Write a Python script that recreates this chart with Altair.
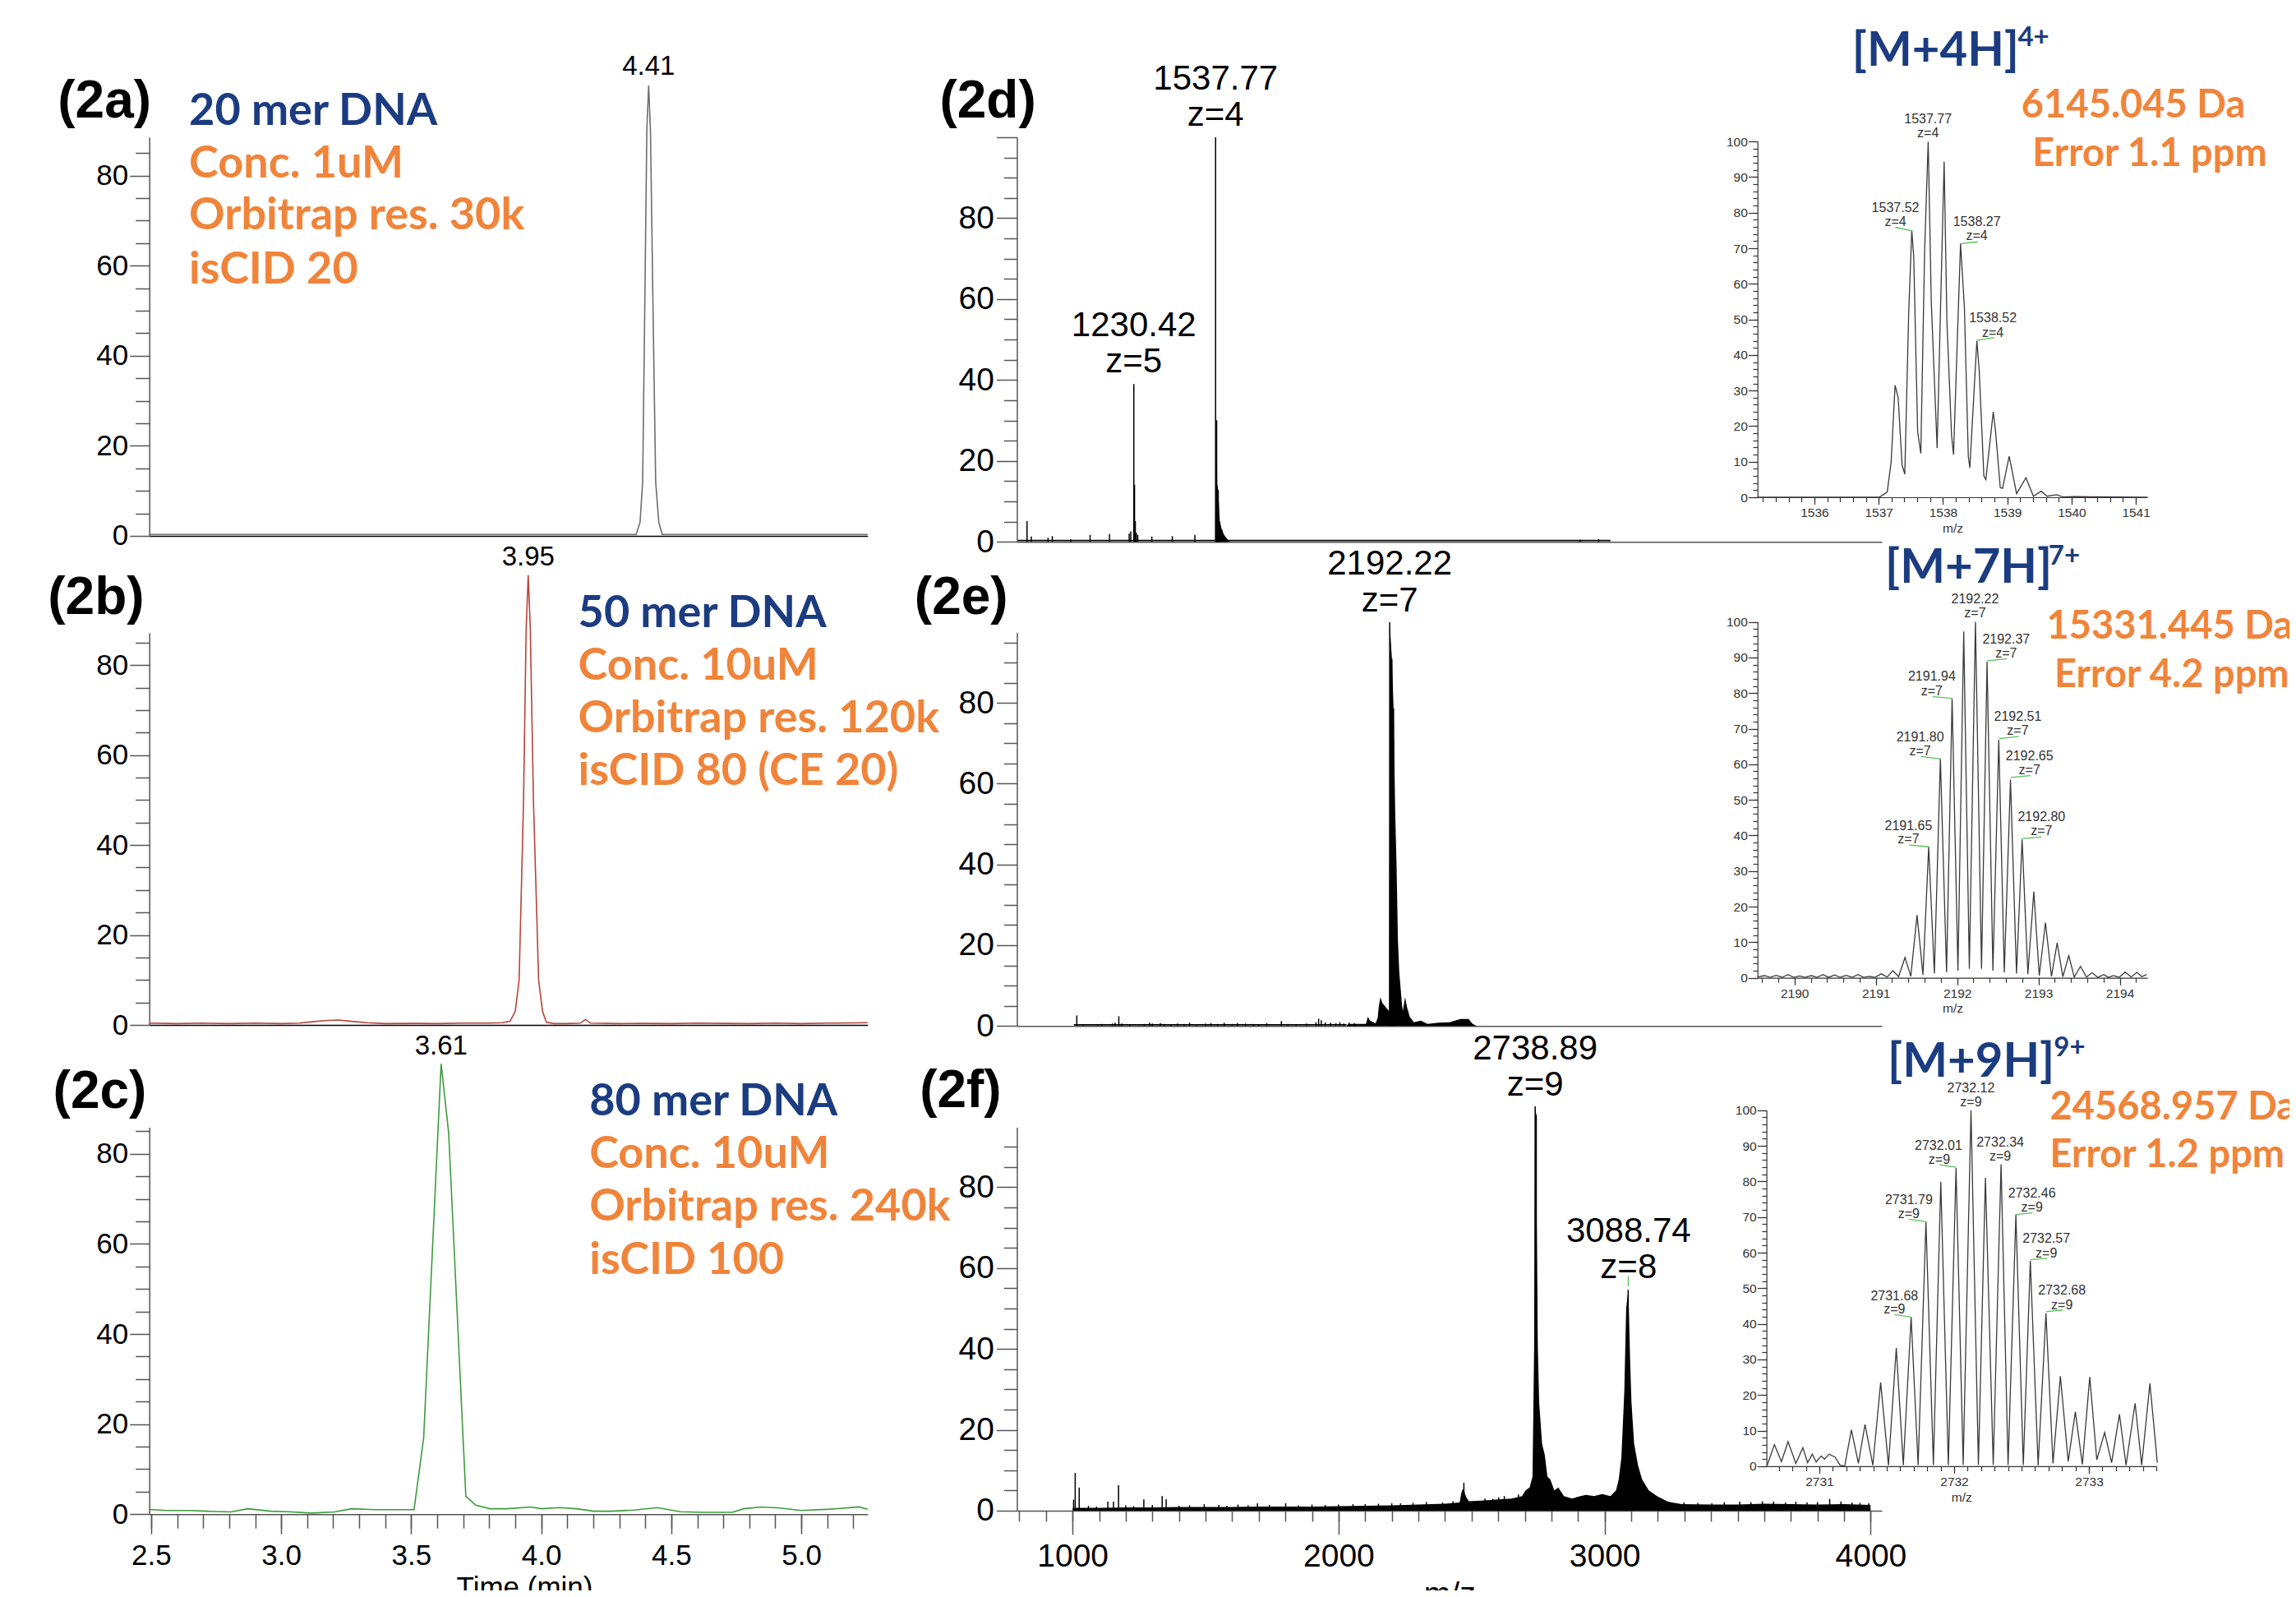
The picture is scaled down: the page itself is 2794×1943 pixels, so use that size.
import altair as alt
import pandas as pd

# ------------------------------------------------------------------ data
# (2a) chromatogram 20 mer
a_time = [2.493, 3.0, 3.5, 4.0, 4.365, 4.38, 4.39, 4.398, 4.406, 4.413, 4.42, 4.43, 4.44, 4.452, 4.465, 4.8, 5.255]
a_int = [0.3, 0.3, 0.3, 0.3, 0.3, 3, 12, 50, 90, 100, 90, 50, 12, 3, 0.3, 0.3, 0.3]
# (2b) chromatogram 50 mer
b_time = [2.493, 2.6, 2.7, 2.8, 2.9, 3.0, 3.07, 3.12, 3.18, 3.22, 3.27, 3.33, 3.4, 3.5, 3.6, 3.7, 3.8, 3.85,
          3.88, 3.9, 3.915, 3.932, 3.942, 3.95, 3.958, 3.97, 3.99, 4.005, 4.02, 4.05, 4.1, 4.15, 4.17, 4.19,
          4.3, 4.4, 4.5, 4.6, 4.7, 4.8, 4.9, 5.0, 5.1, 5.2, 5.255]
b_int = [0.4, 0.3, 0.4, 0.3, 0.4, 0.3, 0.4, 0.7, 1.0, 1.1, 0.8, 0.5, 0.3, 0.35, 0.3, 0.4, 0.4, 0.5,
         0.8, 3, 10, 50, 88, 100, 88, 50, 10, 3, 0.6, 0.3, 0.3, 0.4, 1.2, 0.4,
         0.3, 0.35, 0.3, 0.4, 0.35, 0.3, 0.4, 0.3, 0.4, 0.45, 0.5]
# (2c) chromatogram 80 mer
c_time = [2.491, 2.562, 2.651, 2.717, 2.806, 2.872, 2.961, 3.027, 3.116, 3.205, 3.271, 3.36, 3.426, 3.511,
          3.548, 3.615, 3.644, 3.71, 3.748, 3.803, 3.87, 3.958, 4.003, 4.069, 4.136, 4.202, 4.269, 4.357,
          4.446, 4.535, 4.623, 4.734, 4.778, 4.845, 4.911, 5.0, 5.111, 5.222, 5.255]
c_int = [1.05, 0.8, 0.8, 0.65, 0.5, 1.2, 0.65, 0.55, 0.25, 0.5, 1.2, 1.0, 1.0, 1.0,
         17, 100, 84.7, 4.0, 2.0, 1.2, 1.2, 1.6, 1.2, 1.45, 1.2, 0.65, 0.65, 0.9,
         1.45, 0.55, 0.4, 0.4, 1.2, 1.6, 1.4, 0.8, 1.1, 1.6, 1.1]

# (2d) spectrum: sticks, filled envelope, baseline
d_mz = [829, 845, 908, 924, 993, 1066, 1139, 1213, 1219, 1230.42, 1233, 1236, 1240, 1245, 1298, 1375, 1460,
        1537.77, 1541.7, 1543.6, 1547.6, 1553.5, 1561.4, 1571.2, 1587, 2908, 2977]
d_int = [5.1, 1.3, 1.0, 1.4, 0.6, 1.7, 1.9, 2.0, 2.6, 39.0, 14.1, 5.1, 2.2, 1.7, 1.3, 1.4, 1.7,
         100, 30, 14, 12.8, 5, 3, 1.5, 0.3, 0.5, 0.7]
d_fill_mz = [1536.5, 1537.77, 1541.7, 1543.6, 1547.6, 1553.5, 1561.4, 1571.2, 1587, 1590]
d_fill_int = [0, 30, 30, 14, 12.8, 5, 3, 1.5, 0.3, 0]
d_base_mz = [795, 3022]
d_base_int = [0.3, 0.3]

# (2e) spectrum
e_mz = [1016, 1040, 1095, 1110, 1150, 1160, 1174, 1185, 1215, 1270, 1290, 1300, 1330, 1345, 1370, 1395, 1420,
        1440, 1465, 1500, 1520, 1545, 1570, 1600, 1620, 1650, 1680, 1700, 1730, 1785, 1810, 1840, 1880, 1915,
        1925, 1935, 1950, 1970, 1990, 2005, 2020, 2040, 2060, 2192.22, 2200.5, 2206.7]
e_int = [2.6, 0.3, 0.4, 0.5, 0.6, 0.8, 2.4, 0.6, 0.3, 0.5, 0.8, 0.6, 0.7, 0.5, 0.4, 0.6, 0.5,
         0.8, 0.4, 0.6, 0.7, 0.5, 0.8, 0.5, 0.7, 0.6, 0.5, 0.4, 0.7, 1.2, 0.5, 0.4, 0.6, 0.9,
         1.8, 1.4, 0.9, 0.8, 0.7, 0.9, 0.6, 0.8, 0.7, 100, 90.9, 78.7]
e_fill_mz = [2030, 2036, 2067, 2103, 2110, 2118, 2139, 2147, 2151, 2157, 2164.5, 2180, 2190.2, 2192.22, 2200.5,
             2206.7, 2212.9, 2218, 2223.2, 2228.3, 2233.5, 2238.6, 2241.7, 2250, 2257, 2267.5, 2283, 2309, 2334,
             2376, 2417, 2458, 2489, 2504, 2520]
e_fill_int = [0, 0.5, 0.5, 0.5, 2.3, 1.3, 0.65, 2.0, 4.7, 7.1, 5.7, 4.4, 3.7, 100, 90.9,
              78.7, 52.6, 39.7, 21.0, 13.2, 9.1, 5.1, 3.7, 7.1, 4.7, 2.3, 0.9, 1.3, 0.5,
              0.8, 0.9, 1.7, 1.7, 0.5, 0]
e_base_mz = [1005, 2030]
e_base_int = [0.25, 0.25]

# (2f) spectrum
f_mz = [1004, 1010, 1025, 1133, 1154, 1173, 1268, 1337, 1352, 1495, 1622, 1695, 1801, 2054, 2233, 2391, 2466,
        2471, 2477, 2602, 2623, 2655, 2676, 2697, 2718, 2738.89, 2743, 2792, 2823, 2855, 2897, 2939, 2971, 3002,
        3024, 3088.74, 3171, 3213, 3298, 3403, 3508, 3593, 3635, 3719, 3761, 3846, 3888, 3930, 3993,
        1060, 1090, 1200, 1230, 1300, 1400, 1440, 1550, 1580, 1660, 1740, 1850, 1900, 1950, 2000, 2100, 2150,
        2200, 2280, 2330, 2430, 2550, 2580, 3250, 3350, 3450, 3550, 3680, 3800, 3960]
f_int = [2.7, 9.3, 5.7, 2.2, 2.2, 6.3, 2.8, 3.6, 2.8, 1.6, 1.5, 1.8, 1.8, 1.6, 1.8, 2.0, 5.0,
         6.9, 3.7, 3.3, 3.6, 3.0, 4.0, 4.3, 5.3, 100, 97.9, 4.3, 4.0, 2.9, 3.3, 3.6, 3.7, 3.7,
         3.3, 54.6, 2.6, 2.2, 2.0, 1.8, 2.2, 2.3, 2.2, 2.2, 2.0, 2.9, 2.2, 2.0, 1.8,
         1.2, 1.0, 1.3, 1.1, 1.4, 1.2, 1.3, 1.4, 1.2, 1.3, 1.4, 1.3, 1.5, 1.4, 1.5, 1.6, 1.7,
         1.8, 1.9, 2.1, 2.3, 3.0, 2.9, 2.0, 1.9, 2.1, 2.1, 2.0, 2.1, 1.9]
f_fill_mz = [1000, 1001, 1100, 1200, 1300, 1400, 1500, 1600, 1700, 1800, 1900, 2000, 2100, 2200, 2300, 2400,
             2455, 2462, 2470, 2478, 2490, 2550, 2600, 2650, 2690, 2703, 2718, 2729, 2735, 2737, 2738.89, 2743,
             2745, 2749, 2754, 2765, 2775, 2785, 2796, 2811, 2826, 2847, 2878, 2909, 2930, 2960, 2991, 3022,
             3043, 3053, 3063, 3074, 3081, 3088.74, 3091, 3096, 3101, 3111, 3126, 3141, 3166, 3197, 3238, 3290,
             3400, 3500, 3600, 3700, 3800, 3900, 3999, 4000]
f_fill_int = [0, 0.7, 0.7, 0.8, 0.8, 0.9, 0.9, 0.9, 1.0, 1.0, 1.0, 1.1, 1.2, 1.3, 1.5, 1.7,
              2.0, 4.5, 5.5, 3.5, 2.3, 2.5, 2.8, 3.0, 3.6, 5.0, 5.7, 8.4, 40, 70, 100, 97.9,
              70, 40.3, 26.7, 16.5, 13.8, 8.4, 7.7, 5.0, 5.7, 3.6, 3.0, 3.6, 3.9, 3.6, 4.1, 3.6,
              5.0, 7.7, 13.1, 29.4, 50, 54.6, 49.7, 36.9, 26.7, 16.5, 11.1, 7.7, 5.0, 3.6, 2.2, 1.6,
              1.5, 1.5, 1.7, 1.6, 1.5, 1.6, 1.4, 0]

# insets (zoomed isotope envelopes)
id_mz = [1535.115, 1537.01, 1537.133, 1537.194, 1537.255, 1537.303, 1537.364, 1537.406, 1537.467, 1537.515,
         1537.545, 1537.606, 1537.655, 1537.715, 1537.77, 1537.818, 1537.909, 1538.018, 1538.061, 1538.133,
         1538.164, 1538.273, 1538.333, 1538.394, 1538.418, 1538.527, 1538.564, 1538.636, 1538.667, 1538.782,
         1538.818, 1538.891, 1538.927, 1539.03, 1539.145, 1539.291, 1539.406, 1539.527, 1539.618, 1539.77,
         1539.861, 1540.042, 1541.18]
id_int = [0, 0, 1.5, 10, 31.5, 28, 9, 6.5, 52, 75,
          67.6, 18.5, 12.3, 69.6, 100, 55, 13.8, 94.4, 49.6, 17.5,
          12, 71.3, 53.6, 11.5, 8.3, 44, 35.6, 6, 5, 24,
          18.5, 2.7, 2.5, 11.5, 1, 5.5, 0.3, 1.7, 0.3, 0.7,
          0.1, 0.2, 0]
ie_mz = [2189.545, 2189.632, 2189.70, 2189.775, 2189.85, 2189.919, 2189.99, 2190.062, 2190.13, 2190.206,
         2190.28, 2190.349, 2190.42, 2190.493, 2190.56, 2190.636, 2190.71, 2190.78, 2190.85, 2190.923,
         2190.99, 2191.067, 2191.14, 2191.21, 2191.28, 2191.359, 2191.43, 2191.507, 2191.58, 2191.65,
         2191.72, 2191.794, 2191.87, 2191.938, 2192.01, 2192.081, 2192.15, 2192.225, 2192.30, 2192.368,
         2192.44, 2192.512, 2192.58, 2192.656, 2192.73, 2192.799, 2192.87, 2192.943, 2193.01, 2193.086,
         2193.16, 2193.23, 2193.30, 2193.373, 2193.44, 2193.517, 2193.59, 2193.66, 2193.73, 2193.804,
         2193.86, 2193.923, 2193.99, 2194.067, 2194.14, 2194.211, 2194.27, 2194.33]
ie_int = [0.2, 0.6, 0.1, 0.7, 0.1, 0.9, 0.1, 0.5, 0.1, 0.6,
          0.1, 0.9, 0.1, 0.8, 0.1, 0.7, 0.1, 0.9, 0.1, 0.4,
          0.1, 1.1, 0.2, 2.0, 0.3, 5.7, 0.4, 17.6, 0.8, 36.8,
          1.2, 61.5, 1.5, 78.5, 2.0, 97.3, 2.5, 100, 2.5, 88.8,
          2.0, 66.8, 1.5, 55.7, 1.2, 38.9, 1.0, 24.2, 0.6, 15.5,
          0.4, 9.8, 0.3, 6.2, 0.2, 3.2, 0.2, 1.4, 0.1, 0.9,
          0.1, 0.6, 0.1, 1.6, 0.2, 1.5, 0.3, 0.9]
if_mz = [2730.614, 2730.667, 2730.719, 2730.768, 2730.826, 2730.878, 2730.913, 2730.948, 2730.977, 2731.014,
         2731.038, 2731.072, 2731.116, 2731.154, 2731.188, 2731.238, 2731.29, 2731.339, 2731.397, 2731.455,
         2731.513, 2731.571, 2731.623, 2731.681, 2731.733, 2731.791, 2731.846, 2731.901, 2731.957, 2732.014,
         2732.067, 2732.125, 2732.18, 2732.232, 2732.29, 2732.348, 2732.4, 2732.458, 2732.513, 2732.565,
         2732.623, 2732.681, 2732.733, 2732.788, 2732.846, 2732.899, 2732.951, 2733.006, 2733.058, 2733.116,
         2733.168, 2733.226, 2733.275, 2733.342, 2733.391, 2733.452, 2733.507]
if_int = [0.3, 6.1, 1.3, 6.9, 0.8, 5.2, 1.0, 3.4, 1.2, 2.9,
          2.0, 3.4, 2.6, 0.3, 0, 10.2, 0.8, 11.7, 0.3, 23.5,
          0.3, 33.2, 0.3, 41.9, 0.3, 68.7, 0.3, 79.9, 0.3, 83.8,
          0.3, 100, 0.3, 81.1, 0.3, 84.8, 0.3, 70.7, 0.3, 57.7,
          0.3, 43, 0.8, 25.3, 1.3, 15.3, 0.5, 25.1, 1.8, 9.5,
          1.0, 14.6, 0.3, 17.7, 0.3, 23.3, 1.0]

# annotation texts: (text, x in data units, y in data units)
a_tag = [("(2a)", 2.141, 92.9)]
a_peak = [("4.41", 4.413, 102.3)]
a_title = [("20 mer DNA", 2.646, 91.2)]
a_info = [("Conc. 1uM", 2.646, 79.6), ("Orbitrap res. 30k", 2.646, 68.0), ("isCID 20", 2.646, 56.1)]
b_tag = [("(2b)", 2.103, 91.4)]
b_peak = [("3.95", 3.95, 102.2)]
b_title = [("50 mer DNA", 4.142, 88.4)]
b_info = [("Conc. 10uM", 4.142, 76.7), ("Orbitrap res. 120k", 4.142, 65.0), ("isCID 80 (CE 20)", 4.142, 53.3)]
c_tag = [("(2c)", 2.123, 90.2)]
c_peak = [("3.61", 3.615, 102.0)]
c_title = [("80 mer DNA", 4.185, 88.5)]
c_info = [("Conc. 10uM", 4.185, 76.8), ("Orbitrap res. 240k", 4.185, 65.1), ("isCID 100", 4.185, 53.4)]
d_tag = [("(2d)", 500.5, 104.9)]
d_peaks = [("1537.77", 1537.77, 111.7), ("z=4", 1537.77, 102.9), ("1230.42", 1230.42, 50.9), ("z=5", 1230.42, 41.9)]
e_tag = [("(2e)", 405.9, 102.0)]
e_peaks = [("2192.22", 2192.22, 111.9), ("z=7", 2192.22, 102.6)]
f_tag = [("(2f)", 425.4, 99.8)]
f_peaks = [("2738.89", 2738.89, 111.6), ("z=9", 2738.89, 102.6), ("3088.74", 3090, 66.5), ("z=8", 3090, 57.5)]
f_marks = [(3088.74, 55.5, 3088.74, 58.0)]

id_ion = [("[M+4H]", 1536.587, 121.3)]
id_sup = [("4+", 1539.163, 126.8)]
id_mass = [("6145.045 Da", 1539.22, 106.7), ("Error 1.1 ppm", 1539.39, 93.2)]
id_labels = [("1537.77", 1537.767, 105.2), ("z=4", 1537.767, 101.2), ("1537.52", 1537.26, 80.2), ("z=4", 1537.26, 76.2),
             ("1538.27", 1538.527, 76.2), ("z=4", 1538.527, 72.3), ("1538.52", 1538.776, 49.1), ("z=4", 1538.776, 45.1)]
id_marks = [(1537.26, 75.9, 1537.515, 74.9), (1538.273, 71.3, 1538.54, 71.8), (1538.527, 44.1, 1538.8, 44.9)]

ie_ion = [("[M+7H]", 2191.115, 111.0)]
ie_sup = [("7+", 2193.124, 116.0)]
ie_mass = [("15331.445 Da", 2193.10, 95.4), ("Error 4.2 ppm", 2193.196, 81.7)]
ie_labels = [("2192.22", 2192.22, 105.3), ("z=7", 2192.22, 101.4), ("2192.37", 2192.603, 93.9), ("z=7", 2192.603, 89.9),
             ("2191.94", 2191.689, 83.6), ("z=7", 2191.689, 79.4), ("2192.51", 2192.746, 72.3), ("z=7", 2192.746, 68.2),
             ("2191.80", 2191.545, 66.4), ("z=7", 2191.545, 62.4), ("2192.65", 2192.89, 61.0), ("z=7", 2192.89, 57.1),
             ("2191.65", 2191.402, 41.5), ("z=7", 2191.402, 37.7), ("2192.80", 2193.038, 44.1), ("z=7", 2193.038, 40.0)]
ie_marks = [(2192.368, 89.1, 2192.612, 89.6), (2191.699, 79.0, 2191.938, 78.5), (2192.512, 67.2, 2192.756, 67.8),
            (2191.555, 62.2, 2191.794, 61.5), (2192.656, 56.3, 2192.9, 56.8), (2191.411, 37.3, 2191.651, 36.8),
            (2192.799, 39.1, 2193.038, 39.6)]

if_ion = [("[M+9H]", 2731.507, 109.5)]
if_sup = [("9+", 2732.739, 115.3)]
if_mass = [("24568.957 Da", 2732.71, 97.3), ("Error 1.2 ppm", 2732.71, 84.0)]
if_labels = [("2732.12", 2732.125, 105.1), ("z=9", 2732.125, 101.1), ("2732.01", 2731.884, 88.9), ("z=9", 2731.89, 85.0),
             ("2732.34", 2732.342, 89.8), ("z=9", 2732.342, 85.9), ("2731.79", 2731.664, 73.6), ("z=9", 2731.664, 69.7),
             ("2732.46", 2732.577, 75.5), ("z=9", 2732.577, 71.5), ("2732.57", 2732.684, 62.8), ("z=9", 2732.684, 58.6),
             ("2731.68", 2731.557, 46.7), ("z=9", 2731.557, 42.9), ("2732.68", 2732.8, 48.3), ("z=9", 2732.8, 44.0)]
if_marks = [(2731.89, 84.7, 2732.014, 84.0), (2731.664, 69.4, 2731.791, 68.7), (2732.458, 70.7, 2732.58, 71.2),
            (2732.565, 58.0, 2732.69, 58.4), (2731.557, 42.6, 2731.681, 41.9), (2732.681, 43.4, 2732.806, 43.9)]

# tick positions (major = labelled, minor = unlabelled)
ch_y_major = [0, 20, 40, 60, 80]
ch_y_minor = [v for v in range(0, 90, 5) if v % 20]
ch_x_major = [2.5, 3.0, 3.5, 4.0, 4.5, 5.0]
ch_x_minor = [round(2.5 + 0.1 * i, 1) for i in range(28)]
ms_y_major = [0, 20, 40, 60, 80, 100]
ms_x_major = [1000, 2000, 3000, 4000]
ms_x_minor = list(range(800, 4001, 100))
ins_y_major = list(range(0, 101, 10))
ins_y_minor = list(range(0, 101, 2))
id_x_major = [1536, 1537, 1538, 1539, 1540, 1541]
id_x_minor = [round(1535.2 + 0.2 * i, 1) for i in range(30)]
ie_x_major = [2190, 2191, 2192, 2193, 2194]
ie_x_minor = [round(2189.6 + 0.2 * i, 1) for i in range(24)]
if_x_major = [2731, 2732, 2733]
if_x_minor = [round(2730.7 + 0.1 * i, 1) for i in range(29)]

# ------------------------------------------------------------------ style / layout
NAVY = "#1b3c81"
ORANGE = "#f0843a"
GREEN = "#55c255"
INK = "#333333"
AX = "#555555"
SANS = "Liberation Sans"
LATO = "Lato"
W, H, M = 2778, 1927, 8


def scale(dom, r0, r1):
    return alt.Scale(domain=dom, range=[r0 - M, r1 - M], nice=False, zero=False)


CHX = scale([2.493, 5.255], 181.7, 1055.8)
A_Y = scale([0, 88.5], 651.9, 167.0)
B_Y = scale([0, 87.2], 1247.0, 769.8)
C_Y = scale([0, 85.9], 1842.2, 1371.5)
MSX = scale([791, 4042], 1237.5, 2290.0)
D_Y = scale([0, 100], 659.2, 167.0)
E_Y = scale([0, 97.4], 1248.2, 769.8)
F_Y = scale([0, 94.8], 1837.9, 1371.6)
ID_X = scale([1535.115, 1541.18], 2138.7, 2613.2)
ID_Y = scale([0, 100], 605.0, 172.2)
IE_X = scale([2189.545, 2194.34], 2138.7, 2613.2)
IE_Y = scale([0, 100], 1189.6, 756.6)
IF_X = scale([2730.608, 2733.50], 2149.6, 2624.1)
IF_Y = scale([0, 100], 1783.9, 1350.8)


def offset_for(orient, pos):
    return -(pos - M) if orient == "left" else (pos - M) - H


def major_axis(orient, pos, values, tick, size, pad, color=AX, lcolor="black", fmt=None,
               title="", title_pad=0, title_size=None, title_x=None, stroke=1.5, hide_above=None):
    kw = dict(orient=orient, offset=offset_for(orient, pos), values=values, grid=False,
              tickSize=tick, labelFont=SANS, labelFontSize=size, labelPadding=pad, labelColor=lcolor,
              labelOverlap=False, labelFlush=False,
              tickColor=color, domainColor=color, tickWidth=stroke, domainWidth=stroke, title=title)
    if hide_above is not None:
        kw["labelExpr"] = f"datum.value > {hide_above} ? '' : datum.label"
    if fmt:
        kw["format"] = fmt
    if title:
        kw.update(titleFont=SANS, titleFontSize=title_size, titleFontWeight="normal",
                  titlePadding=title_pad, titleColor=lcolor)
        if title_x is not None:
            kw["titleX"] = title_x - M
    return alt.Axis(**kw)


def minor_axis(orient, pos, values, tick, color=AX, stroke=1.5):
    return alt.Axis(orient=orient, offset=offset_for(orient, pos), values=values, grid=False,
                    tickSize=tick, labels=False, domain=False, tickColor=color, tickWidth=stroke, title="")


def line_axis(orient, pos, color="black", stroke=1.5):
    return alt.Axis(orient=orient, offset=offset_for(orient, pos), ticks=False, labels=False,
                    grid=False, title="", domainColor=color, domainWidth=stroke)


def texts(rows, xs, ys, font, size, color, weight="normal", align="center"):
    df = pd.DataFrame(rows, columns=["label", "x", "y"])
    return alt.Chart(df).mark_text(font=font, fontSize=size, color=color, fontWeight=weight,
                                   align=align, baseline="alphabetic").encode(
        x=alt.X("x:Q", scale=xs, axis=None),
        y=alt.Y("y:Q", scale=ys, axis=None),
        text="label:N")


def marks(rows, xs, ys, color=GREEN, width=1.3):
    df = pd.DataFrame(rows, columns=["x", "y", "x2", "y2"])
    return alt.Chart(df).mark_rule(color=color, strokeWidth=width).encode(
        x=alt.X("x:Q", scale=xs, axis=None), y=alt.Y("y:Q", scale=ys, axis=None),
        x2="x2:Q", y2="y2:Q")


def ghost(df, xcol, ycol, xs, ys, xaxis, yaxis):
    """invisible copy of a series that only carries the minor-tick axes"""
    return alt.Chart(df).mark_point(opacity=0).encode(
        x=alt.X(f"{xcol}:Q", scale=xs, axis=xaxis), y=alt.Y(f"{ycol}:Q", scale=ys, axis=yaxis))


# ------------------------------------------------------------------ chromatograms
def chrom(time, inten, color, ys, ybottom, show_x, tag, peak, title, info):
    df = pd.DataFrame({"t": time, "v": inten})
    if show_x:
        xa = major_axis("bottom", ybottom, ch_x_major, 24, 35, 9, fmt=".1f",
                        title="Time (min)", title_pad=4, title_size=35, title_x=638)
        xm = minor_axis("bottom", ybottom, ch_x_minor, 17)
    else:
        xa = line_axis("bottom", ybottom)
        xm = None
    ya = major_axis("left", 181.7, ch_y_major, 24, 35, 2)
    ym = minor_axis("left", 181.7, ch_y_minor, 17)
    line = alt.Chart(df).mark_line(color=color, strokeWidth=1.6).encode(
        x=alt.X("t:Q", scale=CHX, axis=xa), y=alt.Y("v:Q", scale=ys, axis=ya))
    return alt.layer(
        line,
        ghost(df, "t", "v", CHX, ys, xm, ym),
        texts(tag, CHX, ys, SANS, 64, "black", "bold", "left"),
        texts(peak, CHX, ys, SANS, 33, "black"),
        texts(title, CHX, ys, LATO, 54, NAVY, "bold", "left"),
        texts(info, CHX, ys, LATO, 54, ORANGE, "bold", "left"),
    ).resolve_axis(x="independent", y="independent")


panel_a = chrom(a_time, a_int, "#6e6e6e", A_Y, 651.9, False, a_tag, a_peak, a_title, a_info)
panel_b = chrom(b_time, b_int, "#b8433a", B_Y, 1247.0, False, b_tag, b_peak, b_title, b_info)
panel_c = chrom(c_time, c_int, "#3c9c3c", C_Y, 1842.2, True, c_tag, c_peak, c_title, c_info)


# ------------------------------------------------------------------ full spectra
def spectrum(stick_mz, stick_int, fill_mz, fill_int, base_mz, base_int, ys, ybottom, ymax, show_x,
             tag, peaks, green=None):
    ya = major_axis("left", 1237.5, [v for v in ms_y_major if v <= ymax], 25, 39, 3, hide_above=80)
    ym = minor_axis("left", 1237.5, [v for v in range(0, ymax + 1, 5) if v % 20], 16)
    if show_x:
        xa = major_axis("bottom", ybottom, ms_x_major, 29, 39, 8, fmt="d",
                        title="m/z", title_pad=7, title_size=39)
        xm = minor_axis("bottom", ybottom, ms_x_minor, 13)
    else:
        xa = line_axis("bottom", ybottom, AX, 1.5)
        xm = None
    fill_df = pd.DataFrame({"mz": fill_mz, "v": fill_int})
    stick_df = pd.DataFrame({"mz": stick_mz, "v": stick_int})
    area = alt.Chart(fill_df).mark_area(color="black").encode(
        x=alt.X("mz:Q", scale=MSX, axis=xa), y=alt.Y("v:Q", scale=ys, axis=ya))
    sticks = alt.Chart(stick_df).transform_calculate(base="0").mark_rule(color="black", strokeWidth=1.5).encode(
        x=alt.X("mz:Q", scale=MSX, axis=None), y=alt.Y("v:Q", scale=ys, axis=None), y2="base:Q")
    layers = [area, ghost(fill_df, "mz", "v", MSX, ys, xm, ym), sticks]
    if base_mz:
        base_df = pd.DataFrame({"mz": base_mz, "v": base_int})
        layers.append(alt.Chart(base_df).mark_line(color="black", strokeWidth=1.8).encode(
            x=alt.X("mz:Q", scale=MSX, axis=None), y=alt.Y("v:Q", scale=ys, axis=None)))
    layers.append(texts(tag, MSX, ys, SANS, 64, "black", "bold", "left"))
    layers.append(texts(peaks, MSX, ys, SANS, 42, "black"))
    if green:
        layers.append(marks(green, MSX, ys))
    return alt.layer(*layers).resolve_axis(x="independent", y="independent")


panel_d = spectrum(d_mz, d_int, d_fill_mz, d_fill_int, d_base_mz, d_base_int, D_Y, 659.2, 100, False, d_tag, d_peaks)
panel_e = spectrum(e_mz, e_int, e_fill_mz, e_fill_int, e_base_mz, e_base_int, E_Y, 1248.2, 95, False, e_tag, e_peaks)
panel_f = spectrum(f_mz, f_int, f_fill_mz, f_fill_int, [], [], F_Y, 1837.9, 90, True, f_tag, f_peaks, f_marks)


# ------------------------------------------------------------------ insets
def inset(mz, inten, xs, ys, yaxis_x, xaxis_y, x_major, x_minor, ion, sup, mass, labels, green):
    xa = major_axis("bottom", xaxis_y, x_major, 8.7, 15.5, 3, color=INK, lcolor=INK, fmt="d",
                    title="m/z", title_pad=3, title_size=15.5, stroke=1.2)
    xm = minor_axis("bottom", xaxis_y, x_minor, 5.6, color=INK, stroke=1.2)
    ya = major_axis("left", yaxis_x, ins_y_major, 11.4, 15.5, 1, color=INK, lcolor=INK, stroke=1.2)
    ym = minor_axis("left", yaxis_x, ins_y_minor, 5.7, color=INK, stroke=1.2)
    df = pd.DataFrame({"mz": mz, "v": inten})
    line = alt.Chart(df).mark_line(color="#3a3a3a", strokeWidth=1.3).encode(
        x=alt.X("mz:Q", scale=xs, axis=xa), y=alt.Y("v:Q", scale=ys, axis=ya))
    return alt.layer(
        line,
        ghost(df, "mz", "v", xs, ys, xm, ym),
        marks(green, xs, ys),
        texts(labels, xs, ys, SANS, 16, INK),
        texts(ion, xs, ys, LATO, 58, NAVY, "bold", "left"),
        texts(sup, xs, ys, LATO, 33, NAVY, "bold", "left"),
        texts(mass, xs, ys, LATO, 47, ORANGE, "bold", "left"),
    ).resolve_axis(x="independent", y="independent")


inset_d = inset(id_mz, id_int, ID_X, ID_Y, 2138.7, 605.0, id_x_major, id_x_minor,
                id_ion, id_sup, id_mass, id_labels, id_marks)
inset_e = inset(ie_mz, ie_int, IE_X, IE_Y, 2138.7, 1189.6, ie_x_major, ie_x_minor,
                ie_ion, ie_sup, ie_mass, ie_labels, ie_marks)
inset_f = inset(if_mz, if_int, IF_X, IF_Y, 2149.6, 1783.9, if_x_major, if_x_minor,
                if_ion, if_sup, if_mass, if_labels, if_marks)

chart = alt.layer(
    panel_a, panel_b, panel_c, panel_d, panel_e, panel_f, inset_d, inset_e, inset_f
).resolve_scale(x="independent", y="independent").resolve_axis(
    x="independent", y="independent"
).properties(
    width=W, height=H, padding=0, background="white",
    autosize=alt.AutoSizeParams(type="none"),
).configure_view(stroke="transparent")

chart.save("out.html", embed_options={"renderer": "svg", "actions": False})
